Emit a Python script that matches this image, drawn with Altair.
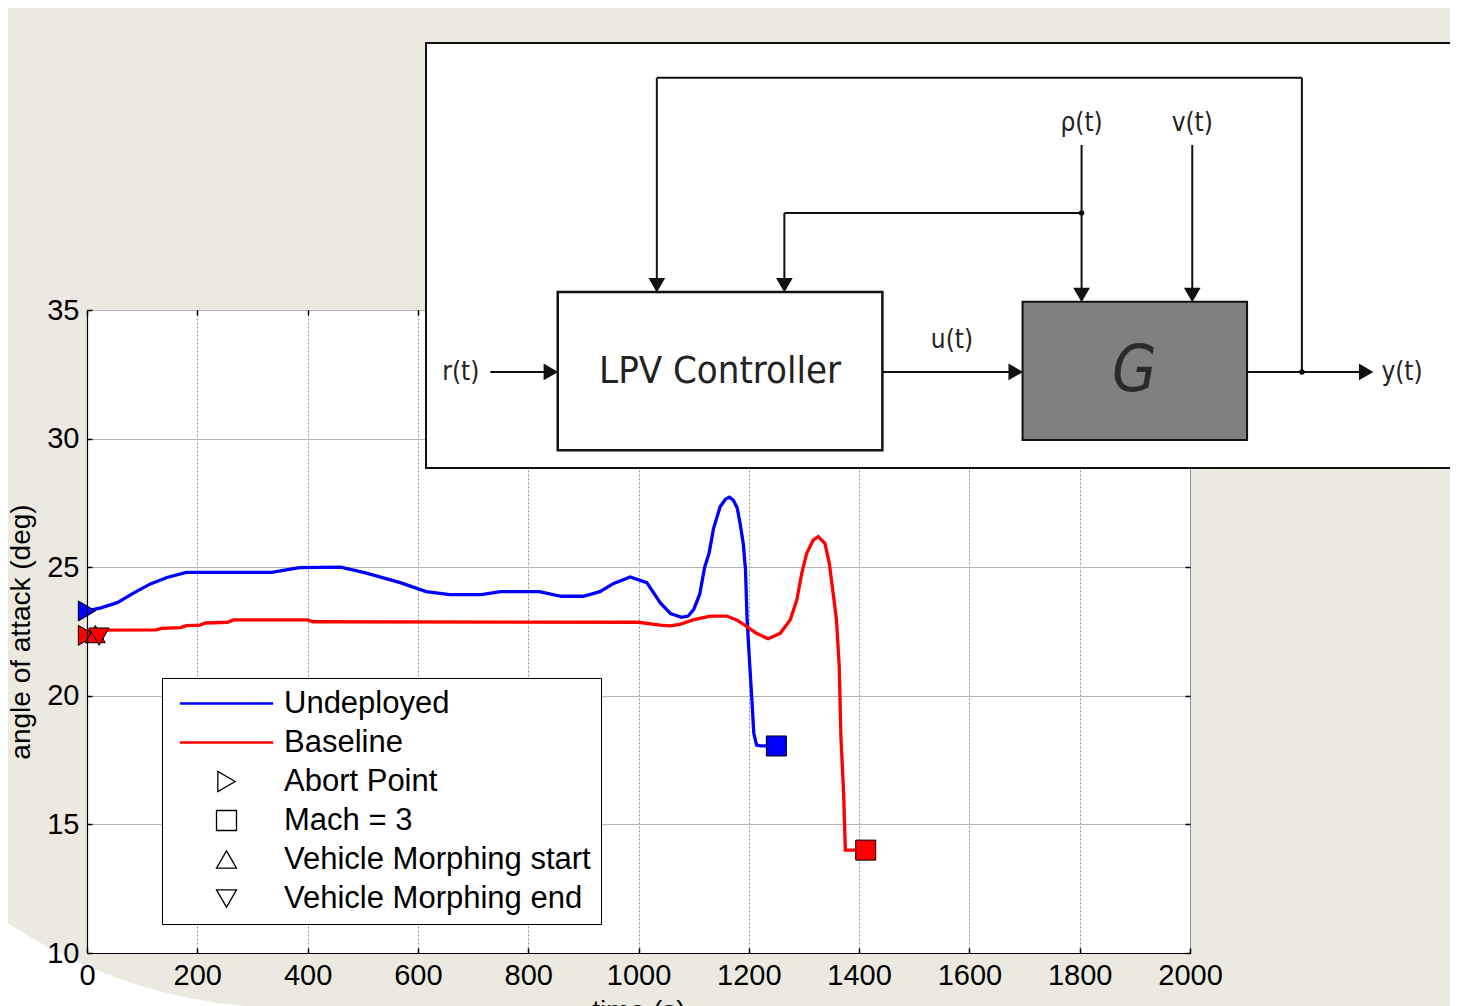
import altair as alt
import pandas as pd

FONT = "Liberation Sans, Arial, sans-serif"
NARROW = "Liberation Sans Narrow, DejaVu Sans Condensed, Liberation Sans, sans-serif"
BEIGE = "#ECEAE0"
BLUE = "#0000FF"
RED = "#FF0000"

# ---------------- chart data ----------------
x_ticks = [0, 200, 400, 600, 800, 1000, 1200, 1400, 1600, 1800, 2000]
y_ticks = [10, 15, 20, 25, 30, 35]

undeployed_t = [0, 25, 55, 85, 115, 145, 180, 335, 385, 460, 505, 568, 615, 658,
                715, 750, 820, 860, 900, 930, 955, 985, 1015, 1040, 1058, 1078, 1090, 1100,
                1111, 1120, 1128, 1136, 1148, 1158, 1165, 1172, 1179, 1185, 1190, 1194, 1197, 1202,
                1206, 1209, 1214, 1222, 1250]
undeployed_aoa = [23.3, 23.42, 23.62, 24.0, 24.35, 24.6, 24.8, 24.8, 24.98, 25.0, 24.78, 24.4, 24.05, 23.93,
                  23.93, 24.05, 24.05, 23.87, 23.87, 24.05, 24.37, 24.62, 24.4, 23.6, 23.2, 23.05, 23.1, 23.35,
                  23.95, 25.0, 25.55, 26.5, 27.35, 27.65, 27.72, 27.6, 27.3, 26.6, 25.9, 24.9, 22.9, 21.1,
                  19.7, 18.55, 18.08, 18.05, 18.05]

baseline_t = [0, 125, 135, 170, 180, 205, 215, 255, 265, 400,
              410, 1000, 1039, 1057, 1075, 1099, 1130, 1160, 1178, 1196,
              1214, 1235, 1257, 1275, 1287, 1296, 1305, 1317, 1326, 1338,
              1346, 1353, 1359, 1364, 1367, 1372, 1375, 1412]
baseline_aoa = [22.55, 22.56, 22.62, 22.65, 22.73, 22.75, 22.83, 22.86, 22.95, 22.95,
                22.88, 22.86, 22.75, 22.72, 22.78, 22.95, 23.1, 23.1, 22.95, 22.7,
                22.43, 22.22, 22.43, 22.95, 23.72, 24.76, 25.54, 26.06, 26.19, 25.93,
                25.15, 23.98, 22.95, 21.13, 18.41, 16.2, 14.0, 14.0]

marker_series = ["Undeployed", "Baseline", "Baseline", "Baseline", "Undeployed", "Baseline"]
marker_event = ["Abort Point", "Abort Point", "Vehicle Morphing start", "Vehicle Morphing end",
                "Mach = 3", "Mach = 3"]
marker_t = [0, 0, 15, 22, 1250, 1412]
marker_aoa = [23.3, 22.35, 22.4, 22.3, 18.05, 14.0]

legend_keys = ["Undeployed", "Baseline", "Abort Point", "Mach = 3",
               "Vehicle Morphing start", "Vehicle Morphing end"]

# ---------------- block diagram (diagram units, frame = 0..100 both ways) ----------------
frame_x = [0, 100]
frame_y = [0, 100]
controller_x = [12.5, 43.3]
controller_y = [4.2, 41.4]
plant_x = [56.6, 77.9]
plant_y = [6.6, 39.1]

wire_x0 = [83.1, 83.1, 21.9, 62.2, 34.0, 62.2, 72.7, 6.1, 43.3, 77.9]
wire_y0 = [22.6, 91.8, 91.8, 60.0, 60.0, 76.0, 76.0, 22.6, 22.6, 22.6]
wire_x1 = [83.1, 21.9, 21.9, 34.0, 34.0, 62.2, 72.7, 11.5, 55.5, 89.0]
wire_y1 = [91.8, 91.8, 44.0, 60.0, 44.0, 42.0, 42.0, 22.6, 22.6, 22.6]

head_down_x = [21.9, 34.0, 62.2, 72.7]
head_down_y = [43.0, 43.0, 40.7, 40.7]
head_right_x = [11.85, 55.95, 89.2]
head_right_y = [22.6, 22.6, 22.6]

dot_x = [62.2, 83.1]
dot_y = [60.0, 22.6]

signal_labels = ["r(t)", "u(t)", "ρ(t)", "v(t)", "y(t)"]
signal_x = [3.3, 49.9, 62.2, 72.7, 92.6]
signal_y = [22.6, 30.1, 81.2, 81.2, 22.6]

# slide backdrop: white corner outside the large beige rounded shape (slide units)
backdrop_cx = [-12.9]
backdrop_cy = [-6.6]

# ---------------- layout ----------------
W, H = 1103, 643

lines_df = pd.concat([
    pd.DataFrame({"t": undeployed_t, "aoa": undeployed_aoa, "key": "Undeployed"}),
    pd.DataFrame({"t": baseline_t, "aoa": baseline_aoa, "key": "Baseline"}),
], ignore_index=True)
markers_df = pd.DataFrame({"t": marker_t, "aoa": marker_aoa, "key": marker_event,
                           "series": marker_series})

LINE_SYMBOL = "M-4.6,-0.07L4.6,-0.07L4.6,0.07L-4.6,0.07Z"
legend_colors = [BLUE, RED, "black", "black", "black", "black"]
legend_shapes = [LINE_SYMBOL, LINE_SYMBOL, "triangle-right", "square", "triangle-up", "triangle-down"]

legend = alt.Legend(
    title=None, orient="none", legendX=75, legendY=368, padding=10,
    fillColor="white", strokeColor="black",
    labelFont=FONT, labelFontSize=31, labelColor="black", labelLimit=600,
    labelOffset=42, symbolOffset=39, symbolSize=400, symbolStrokeWidth=1.3,
    symbolStrokeColor="black", symbolFillColor="transparent", rowPadding=7,
)

x_scale = alt.Scale(domain=[0, 2000], nice=False, zero=False)
y_scale = alt.Scale(domain=[10, 35], nice=False, zero=False)

# grid-only axes (behind everything)
x_grid_axis = alt.Axis(orient="bottom", values=x_ticks, labels=False, domain=False, ticks=False,
                       title=None, grid=True, gridColor="#8c8c8c", gridDash=[2, 2], gridWidth=1)
y_grid_axis = alt.Axis(orient="left", values=y_ticks, labels=False, domain=False, ticks=False,
                       title=None, grid=True, gridColor="#b4b4b4", gridWidth=1)

# labelled axes (drawn on top)
x_axis = alt.Axis(
    orient="bottom", values=x_ticks, format="d", title="time (s)", labelFont=FONT, labelFontSize=29,
    labelColor="black", labelPadding=8, labelFlush=False, labelOverlap=False, ticks=False, grid=False,
    domainColor="black", domainWidth=1.2, zindex=1,
    titleFont=FONT, titleFontSize=28, titleFontWeight="normal", titleColor="black",
    titleX=W / 2, titleY=66, titleBaseline="alphabetic", titleAlign="center",
)
y_axis = alt.Axis(
    orient="left", values=y_ticks, format="d", title="angle of attack (deg)", labelFont=FONT,
    labelFontSize=29, labelColor="black", labelPadding=8, labelFlush=False, labelOverlap=False,
    ticks=False, grid=False, domainColor="black", domainWidth=1.2, zindex=1,
    titleFont=FONT, titleFontSize=28, titleFontWeight="normal", titleColor="black",
    titleAngle=270, titleX=-58, titleY=H / 2, titleBaseline="alphabetic", titleAlign="center",
)


def tick_axis(orient, offset, vals):
    return alt.Axis(orient=orient, offset=offset, values=vals, labels=False, domain=False,
                    grid=False, ticks=True, tickSize=5, tickColor="black", tickWidth=1.5, title=None)


lines = alt.Chart(lines_df).mark_line(interpolate="linear").encode(
    x=alt.X("t:Q", scale=x_scale, axis=x_grid_axis),
    y=alt.Y("aoa:Q", scale=y_scale, axis=y_grid_axis),
    color=alt.Color("key:N", scale=alt.Scale(domain=legend_keys, range=legend_colors), legend=legend),
    strokeWidth=alt.value(3.3),
)

markers = alt.Chart(markers_df).mark_point(filled=True, opacity=1).encode(
    x=alt.X("t:Q", scale=x_scale, axis=tick_axis("top", -H, x_ticks)),
    y=alt.Y("aoa:Q", scale=y_scale, axis=tick_axis("right", -W, y_ticks)),
    shape=alt.Shape("key:N", scale=alt.Scale(domain=legend_keys, range=legend_shapes), legend=legend),
    fill=alt.Fill("series:N", scale=alt.Scale(domain=["Undeployed", "Baseline"], range=[BLUE, RED]),
                  legend=None),
    stroke=alt.value("black"),
    strokeWidth=alt.value(1),
    size=alt.value(400),
)

frame_ticks = alt.Chart(markers_df).mark_point(opacity=0).encode(
    x=alt.X("t:Q", scale=x_scale, axis=tick_axis("bottom", -H, x_ticks)),
    y=alt.Y("aoa:Q", scale=y_scale, axis=tick_axis("left", -W, y_ticks)),
)

label_axes = alt.Chart(markers_df).mark_point(opacity=0).encode(
    x=alt.X("t:Q", scale=x_scale, axis=x_axis),
    y=alt.Y("aoa:Q", scale=y_scale, axis=y_axis),
)

plot = alt.layer(lines, markers, frame_ticks, label_axes).resolve_axis(x="independent", y="independent")

# diagram scales: place the inset above/right of the plot
dsx = alt.Scale(domain=[0, 100], range=[339, 1393])
dsy = alt.Scale(domain=[0, 100], range=[158, -267])


def dX(f):
    return alt.X(f, scale=dsx, axis=None)


def dY(f):
    return alt.Y(f, scale=dsy, axis=None)


def box(xs, ys, fill, sw):
    df = pd.DataFrame({"x0": [xs[0]], "x1": [xs[1]], "y0": [ys[0]], "y1": [ys[1]]})
    return alt.Chart(df).mark_rect(fill=fill, stroke="#111111", strokeWidth=sw).encode(
        x=dX("x0:Q"), x2="x1:Q", y=dY("y0:Q"), y2="y1:Q")


backdrop = alt.Chart(pd.DataFrame({"x": backdrop_cx, "y": backdrop_cy})).mark_arc(
    color="white", opacity=1).encode(
    x=dX("x:Q"), y=dY("y:Q"),
    theta=alt.value(3.14159), theta2=alt.value(4.71239),
    radius=alt.value(512), radius2=alt.value(950),
)

frame = box(frame_x, frame_y, "white", 2)
controller = box(controller_x, controller_y, "white", 2.5)
plant = box(plant_x, plant_y, "#808080", 2)

wires = alt.Chart(pd.DataFrame({"x0": wire_x0, "y0": wire_y0, "x1": wire_x1, "y1": wire_y1})).mark_rule(
    color="#111111", strokeWidth=2).encode(x=dX("x0:Q"), y=dY("y0:Q"), x2="x1:Q", y2="y1:Q")

heads_down = alt.Chart(pd.DataFrame({"x": head_down_x, "y": head_down_y})).mark_point(
    shape="triangle-down", filled=True, color="#111111", size=280, opacity=1).encode(
    x=dX("x:Q"), y=dY("y:Q"))
heads_right = alt.Chart(pd.DataFrame({"x": head_right_x, "y": head_right_y})).mark_point(
    shape="triangle-right", filled=True, color="#111111", size=280, opacity=1).encode(
    x=dX("x:Q"), y=dY("y:Q"))
dots = alt.Chart(pd.DataFrame({"x": dot_x, "y": dot_y})).mark_circle(
    size=30, color="#111111", opacity=1).encode(x=dX("x:Q"), y=dY("y:Q"))

sig_text = alt.Chart(pd.DataFrame({"label": signal_labels, "x": signal_x, "y": signal_y})).mark_text(
    font=NARROW, fontSize=26, color="#222222").encode(x=dX("x:Q"), y=dY("y:Q"), text="label:N")
ctrl_text = alt.Chart(pd.DataFrame({"label": ["LPV Controller"], "x": [27.9], "y": [22.6]})).mark_text(
    font=NARROW, fontSize=38, color="#222222").encode(x=dX("x:Q"), y=dY("y:Q"), text="label:N")
g_text = alt.Chart(pd.DataFrame({"label": ["G"], "x": [67.2], "y": [22.6]})).mark_text(
    font=NARROW, fontSize=64, fontStyle="italic", color="#2b2b2b").encode(
    x=dX("x:Q"), y=dY("y:Q"), text="label:N")

diagram = alt.layer(backdrop, frame, controller, plant, wires, heads_down, heads_right, dots,
                    sig_text, ctrl_text, g_text)

chart = alt.layer(plot, diagram).resolve_scale(x="independent", y="independent").properties(
    width=W, height=H,
    autosize=alt.AutoSizeParams(type="none"),
    padding={"left": 79, "top": 302, "right": 260, "bottom": 53},
    background=BEIGE,
).configure_view(fill="white", stroke="#9a9a9a", strokeWidth=1)

chart.save("out.html", embed_options={"renderer": "svg", "actions": False})
